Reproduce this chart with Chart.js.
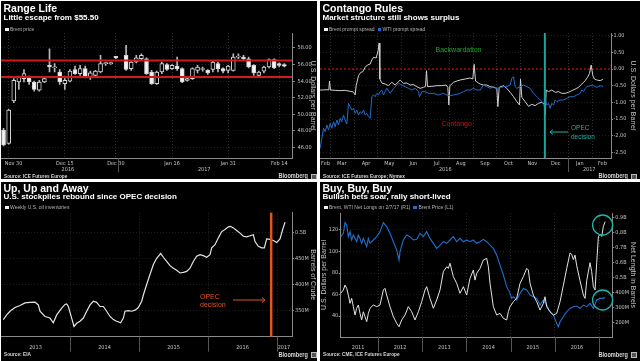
<!DOCTYPE html>
<html>
<head>
<meta charset="utf-8">
<script src="https://cdn.jsdelivr.net/npm/chart.js@4.4.1/dist/chart.umd.min.js"></script>
<style>
  body { margin: 0; width: 640px; height: 361px; background: #fff; position: relative; overflow: hidden;
         font-family: 'Liberation Sans', Arial, sans-serif; }
  .panel { position: absolute; background: #000; overflow: hidden; }
  .panel canvas { position: absolute; left: 0; top: 0; }
  .t { position: absolute; white-space: nowrap; line-height: 1; }
  .title { left: 2.5px; font-size: 10.5px; font-weight: bold; color: #fff; }
  .sub { left: 2.5px; font-size: 8px; font-weight: bold; color: #fff; }
  .legend { left: 4px; font-size: 5px; color: #b4b4b4; display: flex; align-items: center; height: 5px; }
  .sq { display: inline-block; width: 3.5px; height: 3.5px; background: #f0f0f0; margin-right: 1.5px; }
  .src { left: 2.5px; font-size: 5.6px; font-weight: bold; color: #d8d8d8; transform: scaleX(0.85); transform-origin: left center; }
  .bb { font-size: 7px; font-weight: bold; color: #d8d8d8; transform: scaleX(0.8); transform-origin: right center; }
  .ico { position: absolute; width: 4px; height: 4px; border: 0.7px solid #bbb; background: #555; }
  .note { position: absolute; white-space: nowrap; line-height: 1; }
</style>
</head>
<body>

<div class="panel" style="left:1px;top:1px;width:316px;height:178px">
  <canvas id="rangeChart" width="316" height="178"></canvas>
  <div class="t title" style="top:1.7px">Range Life</div>
  <div class="t sub" style="top:12.9px">Little escape from $55.50</div>
  <div class="t legend" style="top:25.8px"><span class="sq"></span>Brent price</div>
  <div class="t src" style="top:173px">Source: ICE Futures Europe</div>
  <div class="t bb" style="top:171.4px;right:9px">Bloomberg</div>
  <div class="ico" style="top:172.5px;right:0.5px"></div>
</div>

<div class="panel" style="left:320px;top:1px;width:320px;height:178px">
  <canvas id="spreadChart" width="320" height="178"></canvas>
  <div class="t title" style="top:1.7px">Contango Rules</div>
  <div class="t sub" style="top:12.9px">Market structure still shows surplus</div>
  <div class="t legend" style="top:25.8px"><span class="sq"></span>Brent prompt spread<span class="sq" style="background:#1f6fcf;margin-left:3px"></span>WTI prompt spread</div>
  <div class="note" style="left:138.5px;top:48.3px;transform:translate(-50%,-50%);font-size:7px;color:#22a82a">Backwardation</div>
  <div class="note" style="left:136.7px;top:122.3px;transform:translate(-50%,-50%);font-size:7px;color:#c8141e">Contango</div>
  <div class="note" style="left:251px;top:123px;font-size:6.5px;line-height:8.7px;color:#1fb0a8">OPEC<br>decision</div>
  <svg style="position:absolute;left:228px;top:126.7px" width="22" height="8">
    <line x1="2" y1="4" x2="20" y2="4" stroke="#1fb0a8" stroke-width="1"/>
    <polyline points="5,1.5 2,4 5,6.5" fill="none" stroke="#1fb0a8" stroke-width="1"/>
  </svg>
  <div class="t src" style="top:173px">Source: ICE Futures Europe; Nymex</div>
  <div class="t bb" style="top:171.4px;right:11.7px">Bloomberg</div>
  <div class="ico" style="top:172.5px;right:3.3px"></div>
</div>

<div class="panel" style="left:1px;top:182px;width:316px;height:179px">
  <canvas id="stockChart" width="316" height="179"></canvas>
  <div class="t title" style="top:0.6px">Up, Up and Away</div>
  <div class="t sub" style="top:11px">U.S. stockpiles rebound since OPEC decision</div>
  <div class="t legend" style="top:23.2px"><span class="sq"></span>Weekly U.S. oil inventories</div>
  <div class="note" style="left:199px;top:111px;font-size:7px;line-height:8px;color:#e0561e">OPEC<br>decision</div>
  <svg style="position:absolute;left:230px;top:114px" width="36" height="8">
    <line x1="2" y1="4" x2="33" y2="4" stroke="#e0561e" stroke-width="1"/>
    <polyline points="31,1.5 34,4 31,6.5" fill="none" stroke="#e0561e" stroke-width="1"/>
  </svg>
  <div class="t src" style="top:170.3px">Source: EIA</div>
  <div class="t bb" style="top:168.8px;right:9px">Bloomberg</div>
  <div class="ico" style="top:169.8px;right:0.5px"></div>
</div>

<div class="panel" style="left:320px;top:182px;width:320px;height:179px">
  <canvas id="betsChart" width="320" height="179"></canvas>
  <div class="t title" style="top:0.6px">Buy, Buy, Buy</div>
  <div class="t sub" style="top:11px">Bullish bets soar, rally short-lived</div>
  <div class="t legend" style="top:23.2px"><span class="sq"></span>Brent, WTI Net Longs on 2/7/17 (R1)<span class="sq" style="background:#1f6fcf;margin-left:3px"></span>Brent Price (L1)</div>
  <div class="t src" style="top:170.3px">Source: CME, ICE Futures Europe</div>
  <div class="t bb" style="top:168.8px;right:11.7px">Bloomberg</div>
  <div class="ico" style="top:169.8px;right:3.3px"></div>
</div>

<script>
// ---- Range Life: daily Brent candles ----
const candleDates = ['Nov 29','Nov 30','Dec 1','Dec 2','Dec 5','Dec 6','Dec 7','Dec 8','Dec 9','Dec 12','Dec 13','Dec 14','Dec 15','Dec 16','Dec 19','Dec 20','Dec 21','Dec 22','Dec 23','Dec 27','Dec 28','Dec 29','Dec 30','Jan 2','Jan 3','Jan 4','Jan 5','Jan 6','Jan 9','Jan 10','Jan 11','Jan 12','Jan 13','Jan 16','Jan 17','Jan 18','Jan 19','Jan 20','Jan 23','Jan 24','Jan 25','Jan 26','Jan 27','Jan 30','Jan 31','Feb 1','Feb 2','Feb 3','Feb 6','Feb 7','Feb 8','Feb 9','Feb 10','Feb 13','Feb 14','Feb 15','Feb 16'];
const candleOpen  = [48.1,46.5,51.6,53.9,54.3,54.4,53.9,52.9,53.9,55.9,55.6,55.1,53.7,54.0,55.4,54.9,55.5,54.5,54.7,55.1,56.1,56.1,57.0,null,57.1,55.5,56.3,56.7,56.7,55.1,53.7,55.1,56.0,55.5,55.8,55.5,54.1,54.3,55.3,55.4,55.3,55.4,56.1,55.5,55.3,55.3,56.9,56.9,56.7,55.9,54.7,55.2,55.7,56.6,56.1,56.0,null];
const candleHigh  = [48.3,50.6,54.3,54.6,55.4,54.6,54.0,54.1,54.4,57.9,56.1,55.4,54.3,55.4,55.8,55.9,55.8,55.2,55.3,57.1,56.3,56.3,57.0,null,58.3,56.4,57.1,57.3,56.8,55.3,55.2,56.3,56.1,56.0,56.9,55.6,54.5,55.6,55.9,55.7,55.4,56.5,56.3,55.6,55.9,57.3,57.3,57.1,56.9,56.0,55.2,55.8,56.7,56.7,56.2,56.1,null];
const candleLow   = [46.2,46.4,51.4,53.0,53.9,53.6,52.8,52.8,53.8,55.1,55.1,53.6,53.0,53.9,54.8,54.7,54.4,54.2,54.5,55.0,55.9,56.0,56.7,null,55.3,55.3,56.2,56.6,54.8,53.6,53.6,54.9,55.3,55.4,55.3,53.8,54.0,54.2,55.0,55.2,54.8,55.1,55.1,55.0,55.0,55.2,56.7,56.6,55.6,54.7,54.5,55.0,55.6,55.5,55.7,55.7,null];
const candleClose = [46.3,50.5,54.1,54.5,54.9,53.9,53.0,53.9,54.3,55.7,55.7,53.9,54.1,55.2,54.9,55.5,54.5,55.0,55.2,56.1,56.2,56.2,56.8,null,55.4,56.3,56.8,57.1,54.9,53.7,55.1,56.1,55.4,55.9,55.5,53.9,54.3,55.5,55.7,55.5,55.0,56.3,55.5,55.2,55.8,56.9,57.0,56.7,55.7,55.0,55.1,55.7,56.6,55.6,55.9,55.8,null];
const shownDates = ['Nov 30','Dec 15','Dec 30','Jan 16','Jan 31','Feb 14'];
const rangeBands = [54.5, 56.5];
const priceTicks = [46, 48, 50, 52, 54, 56, 58];
const rangeYearPos = [12.6, 39.3];
const rangeYearLabels = ['2016', '2017'];

// ---- Contango Rules: prompt spreads (day 0 = Jan 1 2016) ----
const brentDays = [47.2,51.5,55.8,58.3,59.2,60.5,66.5,72.9,79.3,85.8,90.0,92.2,93.5,96.5,99.5,102.0,105.0,108.0,111.5,113.6,115.8,119.2,121.7,123.0,123.9,126.5,130.7,135.0,139.3,143.6,150.0,154.3,158.6,162.9,167.2,171.5,175.7,180.0,182.6,183.9,185.2,190.7,197.2,203.6,209.2,211.3,212.6,213.9,218.6,222.9,227.1,233.6,240.0,243.4,245.1,246.9,250.7,252.9,257.1,261.4,265.7,270.0,274.3,275.6,277.3,282.8,287.1,291.4,295.7,300.0,303.4,304.7,306.4,310.7,315.0,319.3,323.5,327.8,332.1,335.1,336.4,337.7,340.7,345.0,349.3,353.5,357.8,362.1,366.4,370.7,375.0,379.2,383.5,387.8,390.8,393.4,395.5,397.7,399.8,402.8,407.1,410.5];
const brentSpread = [-0.63,-0.63,-0.62,-0.63,-0.36,-0.63,-0.64,-0.65,-0.64,-0.67,-0.69,-0.78,-0.50,-0.20,-0.10,-0.08,0.05,0.12,0.15,0.27,0.35,0.33,0.55,0.78,-0.30,-0.42,-0.45,-0.50,-0.40,-0.48,-0.33,-0.43,-0.42,-0.48,-0.47,-0.53,-0.58,-0.55,-0.52,-0.05,-0.53,-0.52,-0.50,-0.50,-0.48,-0.55,-1.08,-0.50,-0.40,-0.36,-0.33,-0.30,-0.27,-0.30,0.14,-0.36,-0.42,-0.45,-0.48,-0.48,-0.53,-0.55,-0.58,-1.13,-0.55,-0.50,-0.58,-0.70,-0.83,-0.98,-1.08,-0.30,-0.85,-0.98,-1.12,-1.06,-1.10,-1.03,-1.00,-1.05,-1.38,-0.63,-0.68,-0.63,-0.70,-0.68,-0.73,-0.73,-0.70,-0.65,-0.60,-0.55,-0.45,-0.35,-0.25,-0.13,0.12,-0.20,-0.30,-0.33,-0.35,-0.31];
const wtiDays = [47.2,49.3,51.5,53.6,55.8,57.9,60.1,62.2,64.3,66.5,68.6,70.8,72.9,75.0,77.2,79.3,81.5,83.6,85.8,87.9,90.0,92.2,94.3,96.5,98.6,100.8,102.9,105.0,107.2,109.3,111.5,113.6,115.8,117.9,120.0,122.2,124.3,126.5,128.6,130.7,132.9,137.2,141.5,145.7,147.9,152.2,156.4,160.7,165.0,169.3,173.6,174.9,177.9,182.2,186.4,192.9,199.3,205.7,210.0,214.3,218.6,222.9,227.1,231.4,235.7,240.0,244.3,248.6,252.9,257.1,261.4,265.7,270.0,274.3,278.6,282.8,287.1,291.4,293.6,295.7,297.8,300.0,304.3,308.6,312.8,317.1,321.4,325.7,330.0,334.3,336.4,338.5,340.7,342.8,345.0,347.1,349.3,351.4,355.7,360.0,364.2,368.5,372.8,377.1,381.4,383.5,385.7,387.8,390.0,394.2,398.5,402.8,407.1,410.5];
const wtiSpread = [-2.38,-2.08,-1.78,-1.88,-1.68,-1.83,-1.63,-1.78,-1.58,-1.73,-1.53,-1.68,-1.48,-1.58,-1.38,-1.53,-1.65,-1.03,-1.13,-1.23,-1.18,-1.33,-1.23,-1.38,-1.28,-1.33,-1.23,-1.38,-1.33,-1.43,-1.48,-0.83,-0.78,-0.83,-0.73,-0.78,-0.68,-0.63,-0.78,-0.68,-0.58,-0.73,-0.58,-0.48,-0.43,-0.48,-0.53,-0.58,-0.63,-0.58,-0.68,-0.83,-0.68,-0.68,-0.73,-0.73,-0.78,-0.73,-0.78,-0.80,-0.78,-0.76,-0.73,-0.68,-0.63,-0.63,-0.58,-0.63,-0.63,-0.48,-0.53,-0.58,-0.53,-0.58,-0.56,-0.53,-0.53,-0.48,-0.28,-0.23,-0.53,-0.58,-0.53,-0.48,-0.53,-0.58,-0.73,-0.83,-0.93,-1.03,-0.93,-1.08,-1.03,-1.18,-1.03,-1.08,-0.93,-0.98,-0.93,-0.93,-0.88,-0.83,-0.83,-0.78,-0.73,-0.63,-0.68,-0.58,-0.53,-0.50,-0.50,-0.55,-0.50,-0.53];
const monthStartDays = [60, 91, 121, 152, 182, 213, 244, 274, 305, 335, 366, 397];
const monthLabelDays = [54, 75, 106, 136, 167, 197, 228, 259, 289, 320, 350, 381, 410];
const monthLabels = ['Feb','Mar','Apr','May','Jun','Jul','Aug','Sep','Oct','Nov','Dec','Jan','Feb'];
const spreadTicks = [-2.5, -2, -1.5, -1, -0.5, 0, 0.5, 1];
const spreadYearPos = [208, 393];
const spreadYearLabels = ['2016', '2017'];
const spreadOpecDay = 336;

// ---- Up, Up and Away: weekly U.S. inventories (millions of barrels) ----
const invYears = [2013.034,2013.082,2013.130,2013.203,2013.275,2013.348,2013.420,2013.493,2013.541,2013.565,2013.638,2013.710,2013.758,2013.807,2013.879,2013.928,2013.952,2013.976,2014.024,2014.058,2014.097,2014.145,2014.193,2014.242,2014.290,2014.338,2014.386,2014.435,2014.483,2014.531,2014.580,2014.628,2014.676,2014.734,2014.773,2014.797,2014.845,2014.894,2014.942,2014.990,2015.039,2015.063,2015.111,2015.159,2015.208,2015.256,2015.314,2015.353,2015.401,2015.449,2015.498,2015.546,2015.594,2015.643,2015.691,2015.739,2015.787,2015.836,2015.884,2015.932,2015.981,2016.029,2016.053,2016.101,2016.150,2016.198,2016.246,2016.295,2016.329,2016.367,2016.415,2016.464,2016.512,2016.560,2016.609,2016.657,2016.681,2016.729,2016.778,2016.816,2016.850,2016.899,2016.947,2016.995,2017.043,2017.082,2017.116];
const invValues = [333,342,349,356,360,365,366,366.5,361,349,339,336,327,342,355,362,363,358,336,320,326,330,336,349,361,368,366,358,358,349,339,333,330,327,336,349,350,349,351,356,368,380,400,419,438,450,459,452,444,436,431,427,422,423,425,431,444,454,457,455,452,457,470,476,489,501,505,510,511,508,503,498,492,491,493,495,482,473,470,470,487,486,484,480,487,505,519];
const invTicks = [350, 400, 450, 500];
const invTickLabels = ['350M', '400M', '450M', '0.5B'];
const invYearStarts = [2014, 2015, 2016, 2017];
const invYearMids = [2013.5, 2014.5, 2015.5, 2016.5, 2017.1];
const invYearLabels = ['2013', '2014', '2015', '2016', '2017'];
const invOpecYear = 2016.915;

// ---- Buy, Buy, Buy: Brent price (L1) and net longs (R1) ----
const priceYears = [2011.155,2011.216,2011.253,2011.291,2011.329,2011.367,2011.404,2011.442,2011.517,2011.555,2011.593,2011.630,2011.668,2011.744,2011.781,2011.819,2011.894,2011.970,2012.045,2012.121,2012.196,2012.271,2012.347,2012.422,2012.475,2012.498,2012.573,2012.649,2012.724,2012.799,2012.875,2012.950,2013.026,2013.101,2013.176,2013.252,2013.327,2013.403,2013.478,2013.554,2013.629,2013.704,2013.780,2013.855,2013.931,2014.006,2014.081,2014.157,2014.232,2014.308,2014.383,2014.459,2014.534,2014.609,2014.685,2014.760,2014.836,2014.911,2014.986,2015.024,2015.062,2015.137,2015.213,2015.288,2015.364,2015.439,2015.514,2015.590,2015.665,2015.741,2015.816,2015.891,2015.967,2016.042,2016.080,2016.118,2016.193,2016.268,2016.344,2016.419,2016.495,2016.570,2016.646,2016.721,2016.796,2016.872,2016.947,2017.023,2017.097,2017.136];
const brentPrice = [113.8,116.9,126.8,124.7,113.8,118.4,110.7,115.3,109.1,115.3,112.2,107.6,112.2,104.5,112.2,107.6,110.7,113.8,118.4,126.8,123.1,116.9,109.1,101.4,92.1,99.8,110.7,115.3,113.8,110.7,111.3,116.9,113.8,118.4,112.2,107.6,102.9,106,109.1,107.6,110.7,113.8,109.1,112.2,109.1,110.7,109.1,110.7,107.6,109.1,111.3,109.1,106,102.9,96.7,87.4,78.1,67.3,61.1,56.4,58,54.9,61.1,65.7,64.2,59.5,58,56.4,50.2,54.9,50.2,44,40.9,33.2,30,34.7,39.4,44,47.1,48.7,49.3,47.1,50.2,48.7,51.8,47.1,54.9,56.4,56.4,57.4];
const longYears = [2011.155,2011.216,2011.253,2011.291,2011.329,2011.367,2011.404,2011.442,2011.480,2011.517,2011.555,2011.593,2011.630,2011.668,2011.706,2011.744,2011.781,2011.819,2011.894,2011.970,2012.045,2012.121,2012.158,2012.196,2012.271,2012.347,2012.422,2012.475,2012.535,2012.611,2012.686,2012.762,2012.837,2012.913,2012.988,2013.063,2013.101,2013.176,2013.252,2013.327,2013.403,2013.478,2013.554,2013.591,2013.629,2013.667,2013.704,2013.780,2013.855,2013.931,2014.006,2014.081,2014.157,2014.195,2014.232,2014.308,2014.383,2014.459,2014.496,2014.534,2014.609,2014.685,2014.760,2014.836,2014.911,2014.949,2014.986,2015.062,2015.137,2015.213,2015.288,2015.364,2015.401,2015.439,2015.514,2015.590,2015.665,2015.741,2015.778,2015.816,2015.891,2015.967,2016.042,2016.118,2016.193,2016.268,2016.344,2016.382,2016.419,2016.457,2016.495,2016.570,2016.646,2016.683,2016.721,2016.796,2016.834,2016.872,2016.910,2016.947,2016.985,2017.023,2017.060,2017.097,2017.136];
const netLongs = [396,418,451,429,384,329,362,307,251,296,318,262,218,273,240,207,262,296,318,307,318,418,429,384,307,240,196,173,218,251,307,273,218,273,340,418,440,362,296,351,418,540,573,562,596,551,507,462,396,440,384,496,551,484,529,562,618,629,573,462,307,251,262,229,218,273,307,340,362,462,507,562,551,462,384,340,284,329,373,307,273,251,262,340,450,560,665,655,620,650,580,480,384,362,480,600,540,440,418,600,773,790,775,840,873];
const brentPriceTicks = [40, 60, 80, 100, 120];
const netLongTicks = [200, 300, 400, 500, 600, 700, 800, 900];
const netLongTickLabels = ['200M', '300M', '400M', '0.5B', '0.6B', '0.7B', '0.8B', '0.9B'];
const betsYearStarts = [2012, 2013, 2014, 2015, 2016, 2017];
const betsYearMids = [2011.55, 2012.5, 2013.5, 2014.5, 2015.5, 2016.5];
const betsYearLabels = ['2011', '2012', '2013', '2014', '2015', '2016'];

const WHITE = '#e4e4e4';
const BLUE = '#1f6fcf';
const TICK = '#c4c4c4';
const AXIS = '#8a8a8a';
const NARROW = "'Liberation Sans Narrow', 'DejaVu Sans Condensed', 'Liberation Sans', Arial, sans-serif";

Chart.defaults.font.family = "'Liberation Sans', Arial, sans-serif";
Chart.defaults.color = TICK;

// reference lines, circles and year separators, placed through the chart scales
const marks = {
    id: 'marks',
    beforeDatasetsDraw(chart, args, opts) { drawMarks(chart, opts, true); },
    afterDatasetsDraw(chart, args, opts) { drawMarks(chart, opts, false); }
};

function drawMarks(chart, opts, behind) {
    const ctx = chart.ctx;
    const area = chart.chartArea;
    ctx.save();
    (opts.hlines || []).filter(l => !!l.behind === behind).forEach(l => {
        const y = chart.scales[l.axis || 'y'].getPixelForValue(l.value);
        ctx.strokeStyle = l.color;
        ctx.lineWidth = l.width;
        ctx.setLineDash(l.dash || []);
        ctx.beginPath();
        ctx.moveTo(area.left, y);
        ctx.lineTo(area.right, y);
        ctx.stroke();
    });
    (opts.vlines || []).filter(l => !!l.behind === behind).forEach(l => {
        const x = chart.scales.x.getPixelForValue(l.value);
        ctx.strokeStyle = l.color;
        ctx.lineWidth = l.width;
        ctx.setLineDash([]);
        ctx.beginPath();
        ctx.moveTo(x, area.top);
        ctx.lineTo(x, area.bottom);
        ctx.stroke();
    });
    if (!behind) {
        ctx.setLineDash([]);
        (opts.circles || []).forEach(c => {
            const x = chart.scales.x.getPixelForValue(c.x);
            const y = chart.scales[c.axis].getPixelForValue(c.y);
            ctx.strokeStyle = c.color;
            ctx.lineWidth = c.width;
            ctx.beginPath();
            ctx.arc(x, y, c.r, 0, Math.PI * 2);
            ctx.stroke();
        });
        const sep = opts.separators;
        if (sep) {
            sep.values.forEach(v => {
                const x = Math.round(chart.scales.x.getPixelForValue(v)) + 0.5;
                ctx.strokeStyle = sep.color;
                ctx.lineWidth = 1;
                ctx.beginPath();
                ctx.moveTo(x, area.bottom);
                ctx.lineTo(x, area.bottom + sep.length);
                ctx.stroke();
            });
        }
    }
    ctx.restore();
}
Chart.register(marks);

const setTicks = values => scale => { scale.ticks = values.map(v => ({ value: v })); };
// fixed axis height; label overhang must not squeeze the plot area
const fixHeight = h => scale => { scale.height = h; scale.paddingLeft = 0; scale.paddingRight = 0; };
const fixWidth = w => scale => { scale.width = w; };
const noPlugins = { legend: { display: false }, tooltip: { enabled: false } };
const tickFont = { size: 5.5, family: NARROW };
const titleFont = { size: 7, lineHeight: 1 };
// year labels sit one line under the month labels
const yearLine = label => ['', label];

// Range Life Chart
const shownIdx = shownDates.map(d => candleDates.indexOf(d));
const ctxRange = document.getElementById('rangeChart').getContext('2d');
const rangeChart = new Chart(ctxRange, {
    type: 'bar',
    data: {
        labels: candleDates,
        datasets: [{
            label: 'Brent price',
            data: candleOpen.map((o, i) => o === null ? null : [o, candleClose[i]]),
            backgroundColor: candleOpen.map((o, i) => o !== null && candleClose[i] < o ? '#f2f2f2' : '#000'),
            borderColor: '#d4d4d4',
            borderWidth: 1,
            borderSkipped: false,
            barThickness: 4,
            minBarLength: 1,
            grouped: false,
            order: 1
        }, {
            label: 'High-low',
            data: candleLow.map((l, i) => l === null ? null : [l, candleHigh[i]]),
            backgroundColor: '#b8b8b8',
            barThickness: 1,
            grouped: false,
            order: 2
        }]
    },
    options: {
        responsive: false,
        animation: false,
        layout: { padding: { top: 32, bottom: 5.7, left: 0, right: 0 } },
        plugins: Object.assign({
            marks: {
                hlines: rangeBands.map(v => ({ value: v, color: '#d3171d', width: 2 })),
                separators: { values: [22.5], length: 14, color: '#555' }
            }
        }, noPlugins),
        scales: {
            x: {
                type: 'category', offset: true,
                afterBuildTicks: setTicks(shownIdx.concat(rangeYearPos).sort((a, b) => a - b)),
                afterFit: fixHeight(15),
                ticks: {
                    autoSkip: false, maxRotation: 0, padding: 1.7, font: tickFont, color: TICK,
                    callback: v => {
                        if (rangeYearPos.includes(v)) return yearLine(rangeYearLabels[rangeYearPos.indexOf(v)]);
                        // first label is nudged inside the panel, as in the original
                        return (v === shownIdx[0] ? '\u2002\u2002\u2002\u2002' : '') + candleDates[v];
                    }
                },
                grid: {
                    offset: false, drawTicks: false,
                    color: c => c.tick && shownIdx.includes(c.tick.value) ? '#303030' : 'transparent'
                },
                border: { color: AXIS, dash: [1, 2] }
            },
            y: {
                position: 'right', min: 44.7, max: 59.8,
                afterBuildTicks: setTicks(priceTicks), afterFit: fixWidth(25),
                ticks: { padding: 2.5, font: tickFont, color: TICK, callback: v => v.toFixed(2) },
                grid: { color: '#1e1e1e', tickColor: AXIS, tickLength: 3 },
                border: { color: AXIS, dash: [1, 2] },
                title: { display: true, text: 'U.S. Dollars per Barrel', color: TICK, font: titleFont, padding: { top: 0.2, bottom: 0 } }
            }
        }
    }
});

// Contango Rules Chart
const ctxSpread = document.getElementById('spreadChart').getContext('2d');
const spreadChart = new Chart(ctxSpread, {
    type: 'line',
    data: {
        datasets: [{
            label: 'WTI prompt spread',
            data: wtiDays.map((d, i) => ({ x: d, y: wtiSpread[i] })),
            borderColor: BLUE, borderWidth: 1, pointRadius: 0, order: 1
        }, {
            label: 'Brent prompt spread',
            data: brentDays.map((d, i) => ({ x: d, y: brentSpread[i] })),
            borderColor: '#d0d0d0', borderWidth: 1, pointRadius: 0, order: 2
        }]
    },
    options: {
        responsive: false,
        animation: false,
        layout: { padding: { top: 32, bottom: 6, left: 0, right: 0 } },
        plugins: Object.assign({
            marks: {
                hlines: [{ value: 0, color: '#d3171d', width: 1, dash: [2, 2], behind: true }],
                vlines: [{ value: spreadOpecDay, color: '#1aa6a0', width: 2 }],
                separators: { values: [366], length: 14, color: '#555' }
            }
        }, noPlugins),
        scales: {
            x: {
                type: 'linear', min: 47, max: 421,
                afterBuildTicks: setTicks(monthStartDays.concat(monthLabelDays, spreadYearPos).sort((a, b) => a - b)),
                afterFit: fixHeight(15),
                ticks: {
                    autoSkip: false, maxRotation: 0, padding: 2, font: tickFont, color: TICK,
                    callback: v => {
                        if (spreadYearPos.includes(v)) return yearLine(spreadYearLabels[spreadYearPos.indexOf(v)]);
                        return monthLabelDays.includes(v) ? monthLabels[monthLabelDays.indexOf(v)] : '';
                    }
                },
                grid: {
                    drawTicks: false,
                    color: c => c.tick && monthStartDays.includes(c.tick.value) ? '#2e2e2e' : 'transparent'
                },
                border: { color: AXIS, dash: [1, 2] }
            },
            y: {
                position: 'right', min: -2.67, max: 1.08,
                afterBuildTicks: setTicks(spreadTicks), afterFit: fixWidth(29),
                ticks: { padding: 0.5, font: tickFont, color: TICK, callback: v => v.toFixed(2) },
                grid: { color: '#1e1e1e', tickColor: AXIS, tickLength: 2 },
                border: { color: AXIS, dash: [1, 2] },
                title: { display: true, text: 'U.S. Dollars per Barrel', color: TICK, font: titleFont, padding: { top: 3.5, bottom: 0 } }
            }
        }
    }
});

// Up, Up and Away Chart
const ctxStock = document.getElementById('stockChart').getContext('2d');
const stockChart = new Chart(ctxStock, {
    type: 'line',
    data: {
        datasets: [{
            label: 'Weekly U.S. oil inventories',
            data: invYears.map((y, i) => ({ x: y, y: invValues[i] })),
            borderColor: WHITE, borderWidth: 1.2, pointRadius: 0
        }]
    },
    options: {
        responsive: false,
        animation: false,
        layout: { padding: { top: 30.7, bottom: 10.3, left: 0, right: 0 } },
        plugins: Object.assign({
            marks: {
                vlines: [{ value: invOpecYear, color: '#e0561e', width: 2.5 }],
                separators: { values: invYearStarts, length: 15, color: '#555' }
            }
        }, noPlugins),
        scales: {
            x: {
                type: 'linear', min: 2013, max: 2017.217,
                afterBuildTicks: setTicks(invYearStarts.concat(invYearMids).sort((a, b) => a - b)),
                afterFit: fixHeight(14),
                ticks: {
                    autoSkip: false, maxRotation: 0, padding: 7.7, font: tickFont, color: TICK,
                    callback: v => invYearMids.includes(v) ? invYearLabels[invYearMids.indexOf(v)] : ''
                },
                grid: {
                    drawTicks: false,
                    color: c => c.tick && invYearStarts.includes(c.tick.value) ? '#262626' : 'transparent'
                },
                border: { color: AXIS, dash: [1, 2] }
            },
            y: {
                position: 'right', min: 300.4, max: 537,
                afterBuildTicks: setTicks(invTicks), afterFit: fixWidth(25),
                ticks: { padding: 1, font: tickFont, color: TICK, callback: (v, i) => invTickLabels[i] },
                grid: { color: '#1e1e1e', tickColor: AXIS, tickLength: 2 },
                border: { color: AXIS, dash: [1, 2] },
                title: { display: true, text: 'Barrels of Crude', color: TICK, font: titleFont, padding: { top: 0.2, bottom: 0 } }
            }
        }
    }
});

// Buy, Buy, Buy Chart
const ctxBets = document.getElementById('betsChart').getContext('2d');
const betsChart = new Chart(ctxBets, {
    type: 'line',
    data: {
        datasets: [{
            label: 'Brent, WTI Net Longs on 2/7/17 (R1)',
            data: longYears.map((y, i) => ({ x: y, y: netLongs[i] })),
            yAxisID: 'y1',
            borderColor: WHITE, borderWidth: 1, pointRadius: 0, order: 1
        }, {
            label: 'Brent Price (L1)',
            data: priceYears.map((y, i) => ({ x: y, y: brentPrice[i] })),
            yAxisID: 'y',
            borderColor: BLUE, borderWidth: 1.1, pointRadius: 0, order: 2
        }]
    },
    options: {
        responsive: false,
        animation: false,
        layout: { padding: { top: 31, bottom: 10, left: 0, right: 0 } },
        plugins: Object.assign({
            marks: {
                circles: [
                    { x: 2017.08, y: 851, axis: 'y1', r: 10, color: '#1fb5ad', width: 1.3 },
                    { x: 2017.08, y: 54.9, axis: 'y', r: 10, color: '#1fb5ad', width: 1.3 }
                ],
                separators: { values: betsYearStarts, length: 15, color: '#555' }
            }
        }, noPlugins),
        scales: {
            x: {
                type: 'linear', min: 2011.156, max: 2017.30,
                afterBuildTicks: setTicks(betsYearStarts.concat(betsYearMids).sort((a, b) => a - b)),
                afterFit: fixHeight(14),
                ticks: {
                    autoSkip: false, maxRotation: 0, padding: 7.7, font: tickFont, color: TICK,
                    callback: v => betsYearMids.includes(v) ? betsYearLabels[betsYearMids.indexOf(v)] : ''
                },
                grid: {
                    drawTicks: false,
                    color: c => c.tick && betsYearStarts.includes(c.tick.value) ? '#262626' : 'transparent'
                },
                border: { color: AXIS, dash: [1, 2] }
            },
            y: {
                position: 'left', min: 20.5, max: 135.8,
                afterBuildTicks: setTicks(brentPriceTicks), afterFit: fixWidth(20.7),
                ticks: { padding: 0.5, font: tickFont, color: TICK },
                grid: { color: '#1a1a1a', tickColor: AXIS, tickLength: 2 },
                border: { color: AXIS, dash: [1, 2] },
                title: { display: true, text: 'U.S. Dollars per Barrel', color: TICK, font: titleFont, padding: { top: 0.5, bottom: 0 } }
            },
            y1: {
                position: 'right', min: 104.7, max: 931,
                afterBuildTicks: setTicks(netLongTicks), afterFit: fixWidth(27.7),
                ticks: { padding: 1, font: tickFont, color: TICK, callback: (v, i) => netLongTickLabels[i] },
                grid: { drawOnChartArea: false, tickColor: AXIS, tickLength: 2 },
                border: { color: AXIS },
                title: { display: true, text: 'Net Length in Barrels', color: TICK, font: titleFont, padding: { top: 3.5, bottom: 0 } }
            }
        }
    }
});
</script>
</body>
</html>
